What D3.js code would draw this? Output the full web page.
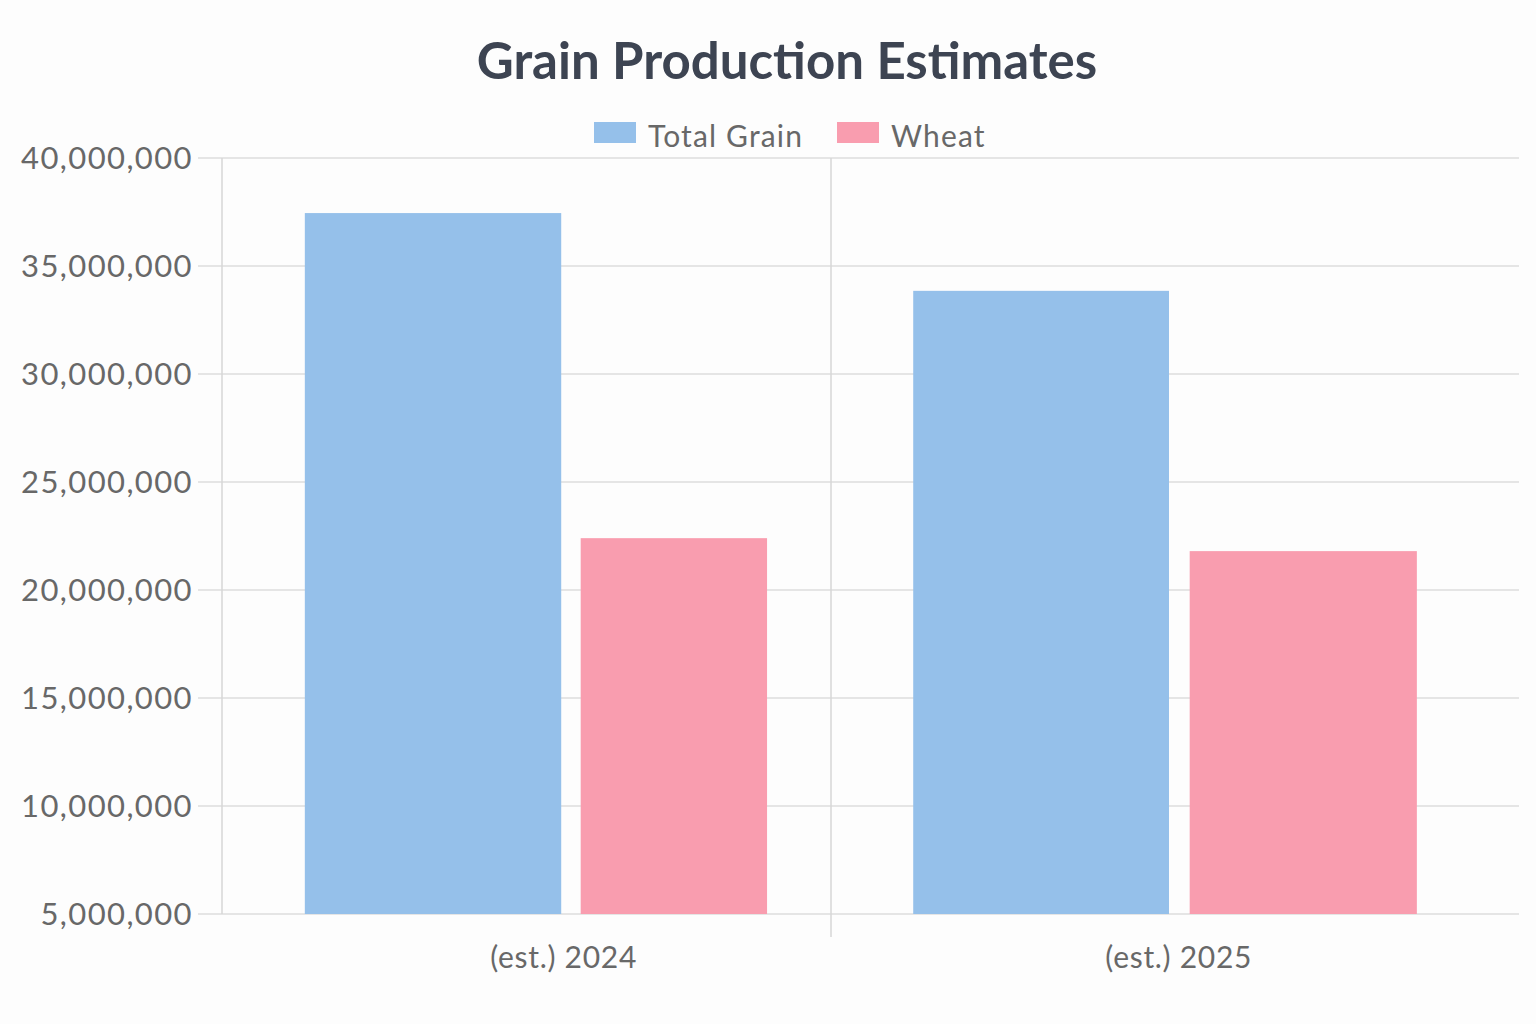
<!DOCTYPE html>
<html><head><meta charset="utf-8">
<script src="https://cdn.jsdelivr.net/npm/d3@7"></script>
<style>body{margin:0;background:#fdfdfd;}svg{display:block;}</style>
</head><body>
<svg id="c" width="1536" height="1024"></svg>
<script>
const categories = ["(est.) 2024", "(est.) 2025"];
const seriesNames = ["Total Grain", "Wheat"];
const totalGrain = [37450000, 33850000];
const wheat = [22400000, 21800000];
const yTicks = [5000000, 10000000, 15000000, 20000000, 25000000, 30000000, 35000000, 40000000];

(function(){
const colors = ["#95c0ea", "#f99daf"];
const font = "Lato, 'Open Sans', sans-serif";
const textColor = "#686868";
const svg = d3.select("#c");
svg.append("rect").attr("width",1536).attr("height",1024).attr("fill","#fdfdfd");

const pLeft = 222, pRight = 1519, pTop = 158, pBottom = 914;
const y = d3.scaleLinear().domain([5000000, 40000000]).range([pBottom, pTop]);
const x = d3.scaleBand().domain(categories).range([pLeft, 1440]).paddingInner(0).paddingOuter(0);
const sub = d3.scaleLinear().domain([0,1]).range([0, x.bandwidth()]);
// [series][category] -> [start, end] fraction of band
const subSpan = [
  [[0.136, 0.557], [0.135, 0.555]],
  [[0.589, 0.895], [0.589, 0.962]]
];
const labelPos = [0.561, 0.571];

const grid = svg.append("g");
yTicks.forEach(t => {
  grid.append("line").attr("x1", pLeft-24).attr("x2", pRight)
    .attr("y1", y(t)).attr("y2", y(t))
    .attr("stroke", "#dcdcdc").attr("stroke-width", 1.5);
});
grid.append("line").attr("x1", pLeft).attr("x2", pLeft).attr("y1", pTop).attr("y2", pBottom)
  .attr("stroke", "#d6d6d6").attr("stroke-width", 1.5);
grid.append("line").attr("x1", x(categories[1])).attr("x2", x(categories[1]))
  .attr("y1", pTop).attr("y2", pBottom+23)
  .attr("stroke", "#d6d6d6").attr("stroke-width", 1.5);

const fmt = d3.format(",");
svg.append("g").selectAll("text").data(yTicks).join("text")
  .attr("x", 193).attr("y", d => y(d)).attr("dy", "0.36em")
  .attr("text-anchor", "end").attr("font-family", font).attr("font-size", 31)
  .attr("letter-spacing", 1.4)
  .attr("fill", textColor).text(d => fmt(d));

const series = [totalGrain, wheat];
series.forEach((vals, si) => {
  svg.append("g").selectAll("rect").data(categories).join("rect")
    .attr("x", (c, i) => x(c) + sub(subSpan[si][i][0]))
    .attr("width", (c, i) => sub(subSpan[si][i][1]) - sub(subSpan[si][i][0]))
    .attr("y", (c, i) => y(vals[i]))
    .attr("height", (c, i) => y(5000000) - y(vals[i]))
    .attr("fill", colors[si]);
});

svg.append("g").selectAll("text").data(categories).join("text")
  .attr("x", (c, i) => x(c) + sub(labelPos[i])).attr("y", 968)
  .attr("text-anchor", "middle").attr("font-family", font).attr("font-size", 30)
  .attr("letter-spacing", 0.7)
  .attr("fill", textColor).text(d => d);

svg.append("text").attr("x", 787).attr("y", 79).attr("text-anchor", "middle")
  .attr("font-family", font).attr("font-weight", "bold").attr("font-size", 51)
  .attr("fill", "#3d4452").text("Grain Production Estimates");

const legX = [594, 837];
seriesNames.forEach((n, i) => {
  svg.append("rect").attr("x", legX[i]).attr("y", 122).attr("width", 42).attr("height", 21)
    .attr("fill", colors[i]);
  svg.append("text").attr("x", legX[i] + 54).attr("y", 136).attr("dy", "0.36em")
    .attr("font-family", font).attr("font-size", 30).attr("letter-spacing", 1.15)
    .attr("fill", textColor).text(n);
});
})();
</script>
</body></html>
